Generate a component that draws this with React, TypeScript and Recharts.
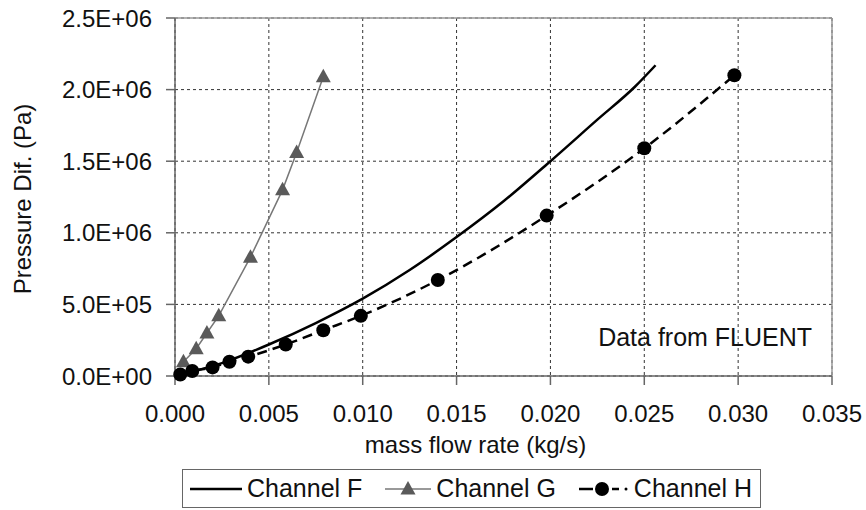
import * as React from 'react';
import {
	CartesianGrid,
	Legend,
	Line,
	LineChart,
	ReferenceDot,
	ReferenceLine,
	XAxis,
	YAxis,
} from 'recharts';

// Channel F (solid, no markers)
const flowF = [0, 0.0025, 0.005, 0.0075, 0.01, 0.0125, 0.015, 0.0175, 0.02, 0.0225, 0.0245, 0.0256];
const pressF = [0, 0.09e6, 0.22e6, 0.37e6, 0.54e6, 0.74e6, 0.97e6, 1.22e6, 1.5e6, 1.79e6, 2.02e6, 2.17e6];

// Channel G (grey, triangles)
const flowG = [0.00045, 0.00113, 0.0017, 0.00233, 0.00402, 0.00573, 0.00648, 0.0079];
const pressG = [0.1e6, 0.19e6, 0.3e6, 0.42e6, 0.83e6, 1.3e6, 1.56e6, 2.09e6];

// Channel H (dashed, circles)
const flowH = [0.00028, 0.00092, 0.002, 0.0029, 0.0039, 0.0059, 0.0079, 0.0099, 0.014, 0.0198, 0.025, 0.0298];
const pressH = [0.01e6, 0.035e6, 0.06e6, 0.1e6, 0.135e6, 0.22e6, 0.32e6, 0.42e6, 0.67e6, 1.12e6, 1.59e6, 2.1e6];

const xTicks = [0, 0.005, 0.01, 0.015, 0.02, 0.025, 0.03, 0.035];
const yTicks = [0, 0.5e6, 1.0e6, 1.5e6, 2.0e6, 2.5e6];

const font = '"Liberation Sans", Arial, sans-serif';
const gridColor = '#333';
const axisColor = '#666';
const greyLine = '#777';
const greyMark = '#5a5a5a';

function toPoints(xs: number[], ys: number[]) {
	return xs.map((x, i) => ({x, y: ys[i]}));
}

function sciLabel(v: number) {
	if (v === 0) return '0.0E+00';
	const e = Math.floor(Math.log10(v) + 1e-9);
	const m = v / Math.pow(10, e);
	return m.toFixed(1) + 'E+' + String(e).padStart(2, '0');
}

function Triangle(props: any) {
	const {cx, cy, index} = props;
	if (cx == null || cy == null) return null;
	return (
		<polygon
			key={'tri-' + index}
			points={`${cx},${cy - 8} ${cx - 7.5},${cy + 5.5} ${cx + 7.5},${cy + 5.5}`}
			fill={greyMark}
		/>
	);
}

function XTitle(props: any) {
	const {viewBox} = props;
	const x = viewBox.x + viewBox.width / 2 - 28;
	const y = viewBox.y + viewBox.height - 13;
	return (
		<text x={x} y={y} textAnchor="middle" fontFamily={font} fontSize={24} fill="#111">
			mass flow rate (kg/s)
		</text>
	);
}

function YTitle(props: any) {
	const {viewBox} = props;
	const x = viewBox.x + 31;
	const y = viewBox.y + viewBox.height / 2 + 2;
	return (
		<text
			x={x}
			y={y}
			transform={`rotate(-90 ${x} ${y})`}
			textAnchor="middle"
			fontFamily={font}
			fontSize={24}
			fill="#111"
		>
			Pressure Dif. (Pa)
		</text>
	);
}

function Sample({index}: {index: number}) {
	if (index === 0) {
		return (
			<svg width={52} height={20}>
				<line x1={0} y1={10} x2={52} y2={10} stroke="#000" strokeWidth={2.5}/>
			</svg>
		);
	}
	if (index === 1) {
		return (
			<svg width={46} height={20}>
				<line x1={0} y1={10} x2={46} y2={10} stroke={greyLine} strokeWidth={1.5}/>
				<polygon points="23,2 15.5,15.5 30.5,15.5" fill={greyMark}/>
			</svg>
		);
	}
	return (
		<svg width={50} height={20}>
			<line x1={0} y1={10} x2={14} y2={10} stroke="#000" strokeWidth={2.5}/>
			<circle cx={23} cy={10} r={7} fill="#000"/>
			<line x1={33} y1={10} x2={40} y2={10} stroke="#000" strokeWidth={2.5}/>
			<circle cx={47} cy={10} r={1.5} fill="#000"/>
		</svg>
	);
}

function LegendBox(props: any) {
	const payload = props.payload || [];
	return (
		<div
			style={{
				boxSizing: 'border-box',
				width: 579,
				height: 39,
				border: '1.5px solid #666',
				background: '#fff',
				display: 'flex',
				alignItems: 'center',
				justifyContent: 'space-between',
				padding: '0 8px 0 7px',
				fontFamily: font,
				fontSize: 25,
				color: '#111',
			}}
		>
			{payload.map((entry: any, i: number) => (
				<div key={entry.value} style={{display: 'flex', alignItems: 'center'}}>
					<Sample index={i}/>
					<span style={{marginLeft: 5}}>{entry.value}</span>
				</div>
			))}
		</div>
	);
}

export default function App() {
	return (
		<div style={{position: 'absolute', left: 0, top: 0, width: 866, height: 510, background: '#fff'}}>
			<LineChart
				width={866}
				height={510}
				margin={{top: 18, right: 34, bottom: 44, left: 0}}
			>
				<CartesianGrid stroke={gridColor} strokeDasharray="3 3" strokeWidth={1}/>
				<XAxis
					type="number"
					dataKey="x"
					domain={[0, 0.035]}
					ticks={xTicks}
					interval={0}
					tickFormatter={(v: number) => v.toFixed(3)}
					height={90}
					tickSize={9}
					tickMargin={20}
					stroke={axisColor}
					strokeWidth={1.5}
					tick={{fill: '#111', fontSize: 24, fontFamily: font}}
					label={XTitle}
				/>
				<YAxis
					type="number"
					dataKey="y"
					domain={[0, 2.5e6]}
					ticks={yTicks}
					interval={0}
					tickFormatter={sciLabel}
					width={175}
					tickSize={9}
					tickMargin={14}
					stroke={axisColor}
					strokeWidth={1.5}
					tick={{fill: '#111', fontSize: 24, fontFamily: font}}
					label={YTitle}
				/>
				<ReferenceLine y={2.5e6} stroke="#999" strokeWidth={1.5}/>
				<ReferenceLine x={0.035} stroke="#999" strokeWidth={1.5}/>
				<ReferenceDot
					x={0.02824}
					y={0.269e6}
					r={0}
					stroke="none"
					label={{
						value: 'Data from FLUENT',
						position: 'center',
						fontSize: 25,
						fontFamily: font,
						fill: '#111',
					}}
				/>
				<Legend
					layout="vertical"
					align="center"
					verticalAlign="middle"
					content={LegendBox}
					wrapperStyle={{left: 182, top: 469, width: 579, height: 39}}
				/>
				<Line
					name="Channel F"
					data={toPoints(flowF, pressF)}
					dataKey="y"
					type="monotone"
					stroke="#000"
					strokeWidth={2.5}
					dot={false}
					isAnimationActive={false}
				/>
				<Line
					name="Channel G"
					data={toPoints(flowG, pressG)}
					dataKey="y"
					type="linear"
					stroke={greyLine}
					strokeWidth={1.5}
					dot={Triangle}
					isAnimationActive={false}
				/>
				<Line
					name="Channel H"
					data={toPoints(flowH, pressH)}
					dataKey="y"
					type="monotone"
					stroke="#000"
					strokeWidth={2.5}
					strokeDasharray="10 6"
					dot={{r: 7, fill: '#000', strokeWidth: 0}}
					isAnimationActive={false}
				/>
			</LineChart>
		</div>
	);
}
